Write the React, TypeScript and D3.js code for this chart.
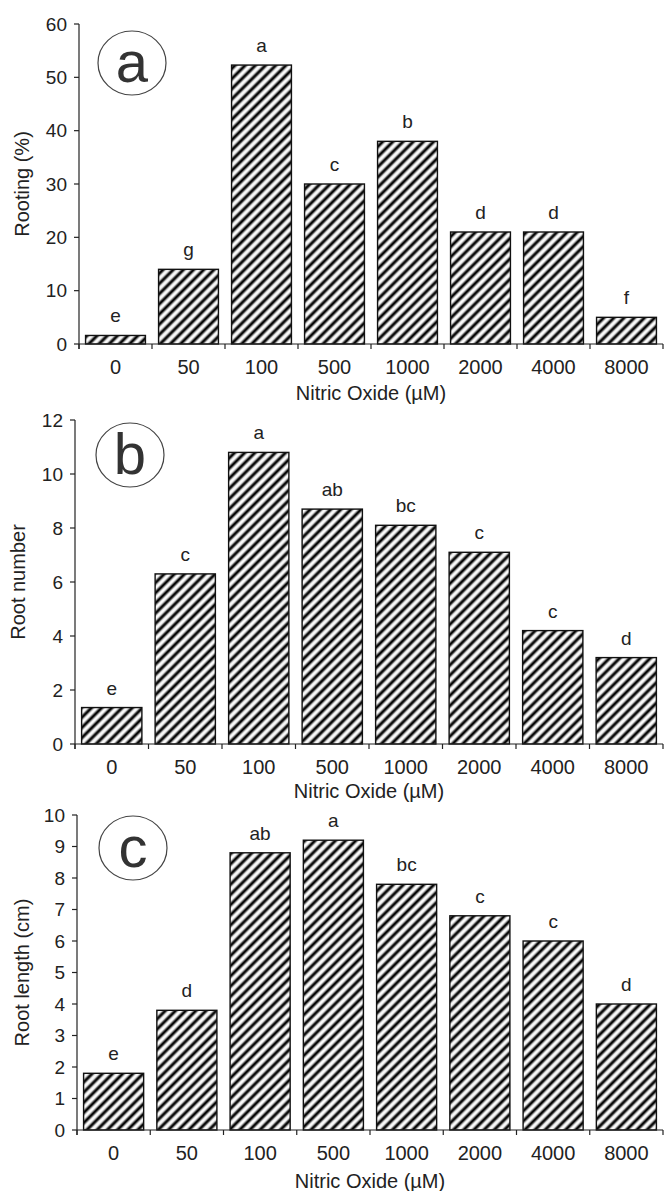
import React from "react";
import * as d3 from "d3";

const categories = ["0", "50", "100", "500", "1000", "2000", "4000", "8000"];
const rooting = [1.6, 14, 52.3, 30, 38, 21, 21, 5];
const rootingLetters = ["e", "g", "a", "c", "b", "d", "d", "f"];
const rootNumber = [1.35, 6.3, 10.8, 8.7, 8.1, 7.1, 4.2, 3.2];
const rootNumberLetters = ["e", "c", "a", "ab", "bc", "c", "c", "d"];
const rootLength = [1.8, 3.8, 8.8, 9.2, 7.8, 6.8, 6.0, 4.0];
const rootLengthLetters = ["e", "d", "ab", "a", "bc", "c", "c", "d"];
const rootingTicks = [0, 10, 20, 30, 40, 50, 60];
const rootNumberTicks = [0, 2, 4, 6, 8, 10, 12];
const rootLengthTicks = [0, 1, 2, 3, 4, 5, 6, 7, 8, 9, 10];
const xTitle = "Nitric Oxide (\u00b5M)";

const FONT = "'Liberation Sans', Arial, Helvetica, sans-serif";
const TXT = "#222";

type PanelProps = {
  values: number[];
  letters: string[];
  ticks: number[];
  yMax: number;
  x0: number;
  x1: number;
  yTop: number;
  yBottom: number;
  yTitle: string;
  yTitleX: number;
  xTitleY: number;
  tag: string;
  tagX: number;
  tagY: number;
};

function Panel(p: PanelProps) {
  const x = d3
    .scaleBand<string>()
    .domain(categories)
    .range([p.x0, p.x1])
    .paddingInner(0.18)
    .paddingOuter(0.09);
  const y = d3.scaleLinear().domain([0, p.yMax]).range([p.yBottom, p.yTop]);
  const step = x.step();
  const boundaries = d3.range(categories.length + 1).map((i) => p.x0 + i * step);
  return (
    <g>
      {p.values.map((v, i) => (
        <rect
          key={"b" + i}
          x={x(categories[i])}
          y={y(v)}
          width={x.bandwidth()}
          height={y(0) - y(v)}
          fill="url(#hatch)"
          stroke="#111"
          strokeWidth={1.4}
        />
      ))}
      {p.values.map((v, i) => (
        <text
          key={"l" + i}
          x={(x(categories[i]) as number) + x.bandwidth() / 2}
          y={y(v) - 13}
          textAnchor="middle"
          fontSize={19}
          fill={TXT}
        >
          {p.letters[i]}
        </text>
      ))}
      <line x1={p.x0} x2={p.x0} y1={y(p.yMax)} y2={y(0) + 5} stroke="#222" strokeWidth={1.2} />
      {p.ticks.map((t) => (
        <g key={"yt" + t}>
          <line x1={p.x0 - 5} x2={p.x0} y1={y(t)} y2={y(t)} stroke="#222" strokeWidth={1.2} />
          <text x={p.x0 - 12} y={y(t)} dy="0.35em" textAnchor="end" fontSize={19} fill={TXT}>
            {t}
          </text>
        </g>
      ))}
      <line x1={p.x0} x2={p.x1} y1={y(0)} y2={y(0)} stroke="#222" strokeWidth={1.2} />
      {boundaries.map((bx, i) => (
        <line key={"xt" + i} x1={bx} x2={bx} y1={y(0)} y2={y(0) + 5} stroke="#222" strokeWidth={1.2} />
      ))}
      {categories.map((c) => (
        <text
          key={"xl" + c}
          x={(x(c) as number) + x.bandwidth() / 2}
          y={y(0) + 23}
          dy="0.35em"
          textAnchor="middle"
          fontSize={20}
          fill={TXT}
        >
          {c}
        </text>
      ))}
      <text
        x={(p.x0 + p.x1) / 2}
        y={p.xTitleY}
        dy="0.35em"
        textAnchor="middle"
        fontSize={20}
        fill={TXT}
      >
        {xTitle}
      </text>
      <text
        transform={`translate(${p.yTitleX},${(p.yTop + p.yBottom) / 2}) rotate(-90)`}
        dy="0.35em"
        textAnchor="middle"
        fontSize={20}
        fill={TXT}
      >
        {p.yTitle}
      </text>
      <ellipse cx={p.tagX} cy={p.tagY} rx={34} ry={32} fill="#fff" stroke="#444" strokeWidth={1.2} />
      <text x={p.tagX} y={p.tagY} dy="0.32em" textAnchor="middle" fontSize={58} fill="#333">
        {p.tag}
      </text>
    </g>
  );
}

export default function App() {
  return (
    <svg
      width={665}
      height={1191}
      style={{ position: "absolute", left: 0, top: 0, background: "#fff" }}
      fontFamily={FONT}
    >
      <defs>
        <linearGradient id="stripeGrad" x1="0" x2="1" y1="0" y2="0">
          <stop offset="0" stopColor="#ffffff" />
          <stop offset="0.15" stopColor="#f4f4f4" />
          <stop offset="0.42" stopColor="#0a0a0a" />
          <stop offset="0.58" stopColor="#0a0a0a" />
          <stop offset="0.85" stopColor="#f4f4f4" />
          <stop offset="1" stopColor="#ffffff" />
        </linearGradient>
        <pattern
          id="hatch"
          patternUnits="userSpaceOnUse"
          width={7.2}
          height={7.2}
          patternTransform="rotate(45)"
        >
          <rect x={0} y={0} width={7.2} height={7.2} fill="url(#stripeGrad)" />
        </pattern>
      </defs>
      <rect x={0} y={0} width={665} height={1191} fill="#fff" />
      <Panel
        values={rooting}
        letters={rootingLetters}
        ticks={rootingTicks}
        yMax={60}
        x0={79}
        x1={663}
        yTop={24}
        yBottom={344}
        yTitle="Rooting (%)"
        yTitleX={22}
        xTitleY={393}
        tag="a"
        tagX={132}
        tagY={63}
      />
      <Panel
        values={rootNumber}
        letters={rootNumberLetters}
        ticks={rootNumberTicks}
        yMax={12}
        x0={75}
        x1={663}
        yTop={420}
        yBottom={744}
        yTitle="Root number"
        yTitleX={18}
        xTitleY={791}
        tag="b"
        tagX={130}
        tagY={455}
      />
      <Panel
        values={rootLength}
        letters={rootLengthLetters}
        ticks={rootLengthTicks}
        yMax={10}
        x0={77}
        x1={663}
        yTop={815}
        yBottom={1130}
        yTitle="Root length (cm)"
        yTitleX={22}
        xTitleY={1181}
        tag="c"
        tagX={133}
        tagY={848}
      />
    </svg>
  );
}
